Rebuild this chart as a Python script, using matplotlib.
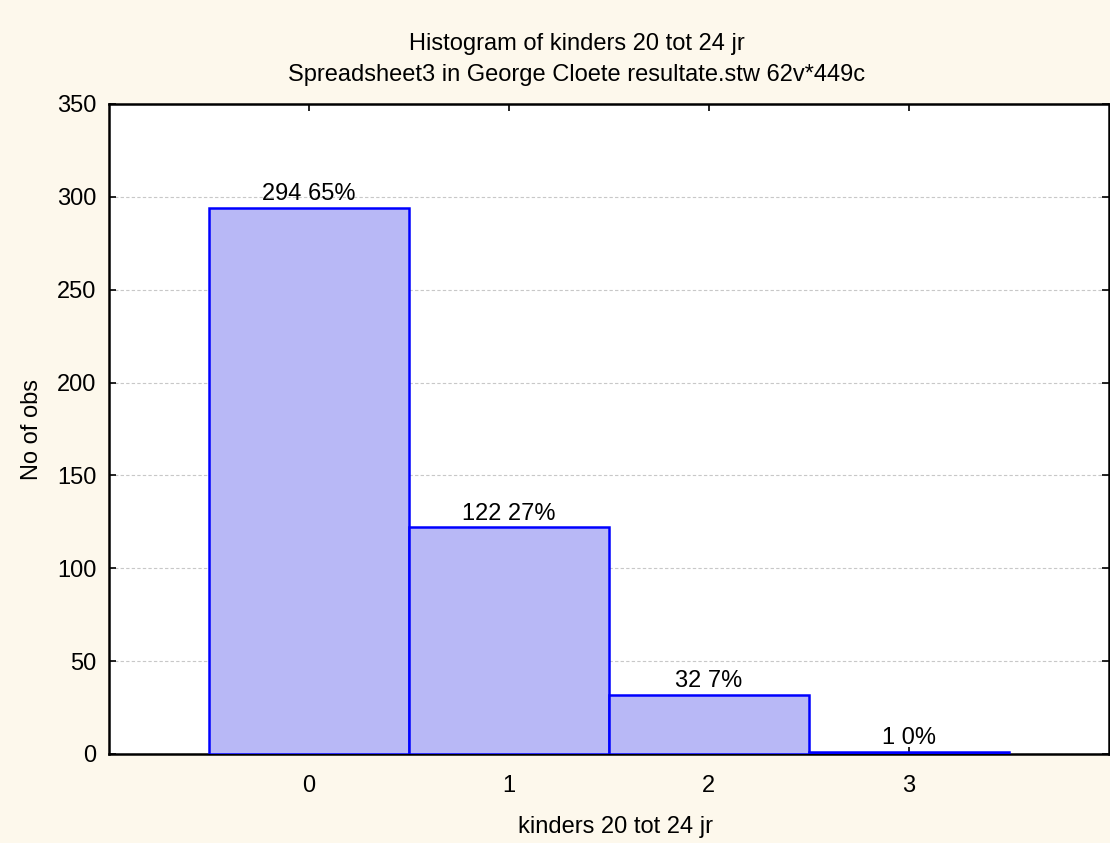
import matplotlib
matplotlib.use("Agg")
import matplotlib.pyplot as plt

categories = [0, 1, 2, 3]
counts = [294, 122, 32, 1]
percents = [65, 27, 7, 0]
yticks = [0, 50, 100, 150, 200, 250, 300, 350]

plt.rcParams['font.family'] = ['Liberation Sans', 'DejaVu Sans']
FS = 17

W, H = 1110, 843
fig = plt.figure(figsize=(W / 100, H / 100), dpi=100, facecolor='#fdf8ec')
ax = fig.add_axes([109 / W, 1 - 754 / H, 1 - 109 / W - 0.001, (754 - 104) / H])
ax.set_facecolor('white')

ax.bar(categories, counts, width=1.0, color='#b8b8f6', edgecolor='#0000ff', linewidth=1.8, zorder=3)
for x, c, p in zip(categories, counts, percents):
    ax.annotate(f"{c} {p}%", xy=(x, c), xytext=(0, 2), textcoords='offset points',
                ha='center', va='bottom', fontsize=FS, zorder=4)

ax.set_xlim(-1, 4)
ax.set_ylim(0, 350)
ax.set_xticks(categories)
ax.set_yticks(yticks)
ax.yaxis.grid(True, linestyle=(0, (3, 2)), color='#c8c8c8', linewidth=0.8, zorder=0)
ax.tick_params(axis='both', direction='in', length=5, width=1.2, labelsize=FS)
ax.tick_params(axis='x', pad=15, top=True)
ax.tick_params(axis='y', pad=9, right=True)
for s in ax.spines.values():
    s.set_linewidth(1.8)
    s.set_color('black')

fig.text(577 / W, 1 - 44 / H, 'Histogram of kinders 20 tot 24 jr', ha='center', va='center', fontsize=FS)
fig.text(577 / W, 1 - 75 / H, 'Spreadsheet3 in George Cloete resultate.stw 62v*449c', ha='center', va='center', fontsize=FS)
fig.text(616 / W, 1 - 827 / H, 'kinders 20 tot 24 jr', ha='center', va='center', fontsize=FS)
fig.text(32 / W, 1 - 430 / H, 'No of obs', ha='center', va='center', rotation=90, fontsize=FS)

fig.savefig('out.png', dpi=100, facecolor=fig.get_facecolor())
